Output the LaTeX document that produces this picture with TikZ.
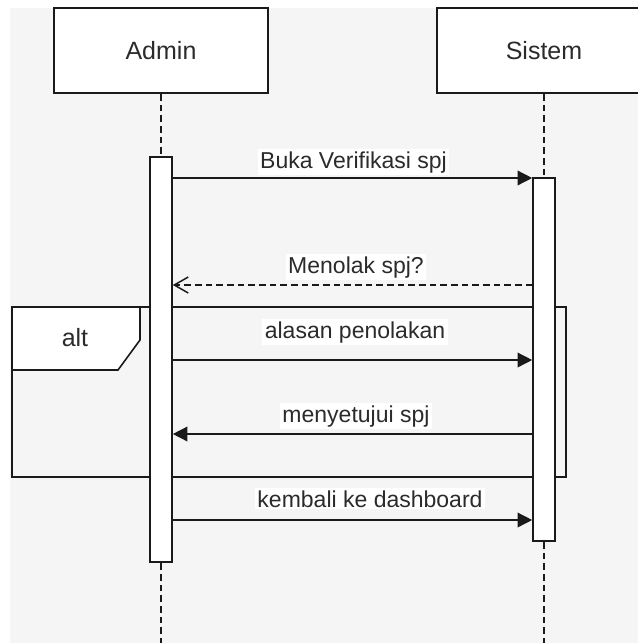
\documentclass[tikz,border=0pt]{standalone}
\usepackage{fontspec}
\setmainfont{Liberation Sans}
\usetikzlibrary{arrows.meta}
\definecolor{canvas}{HTML}{F5F5F5}
\definecolor{ink}{HTML}{1A1A1A}
\definecolor{txt}{HTML}{2B2B2B}
\tikzset{
  lifebox/.style={draw=ink, fill=white, line width=1.5pt, inner sep=0pt,
    minimum width=160.5pt, minimum height=63.75pt, text=txt,
    font=\fontsize{18.75pt}{22pt}\selectfont},
  actbox/.style={draw=ink, fill=white, line width=1.2pt, inner sep=0pt,
    minimum width=16.5pt},
  lifeline/.style={draw=ink, line width=1.1pt, dash pattern=on 5pt off 3pt},
  msg/.style={draw=ink, line width=1.1pt, -{Triangle[length=11pt,width=11pt]}},
  reply/.style={draw=ink, line width=1.1pt, dash pattern=on 5pt off 3pt,
    -{Straight Barb[length=10.5pt,width=12pt,line width=1.1pt]}},
  msglabel/.style={anchor=base, inner xsep=2pt, inner ysep=1.5pt, text=txt,
    fill=white, font=\fontsize{17.25pt}{20pt}\selectfont},
  altlabel/.style={anchor=base, inner sep=0pt, text=txt,
    font=\fontsize{18.75pt}{22pt}\selectfont},
  framebox/.style={draw=ink, line width=1.2pt}
}
\begin{document}
\begin{tikzpicture}[x=0.75pt, y=-0.75pt]
  % canvas
  \useasboundingbox (0,0) rectangle (638,643);
  \fill[white] (0,0) rectangle (638,643);
  \fill[canvas] (10,8) rectangle (638,643);

  % participants
  \node[lifebox] (admin) at (161,50.5) {Admin};
  \node[lifebox] (sistem) at (544,50.5) {Sistem};

  % lifeline ends
  \coordinate (adminEnd) at (161,643);
  \coordinate (sistemEnd) at (544,643);
  \draw[lifeline] (admin.south) -- (adminEnd);
  \draw[lifeline] (sistem.south) -- (sistemEnd);

  % alt combined fragment
  \coordinate (altTL) at (12,307);
  \coordinate (altBR) at (566,477);
  \draw[framebox] (altTL) rectangle (altBR);
  \draw[framebox, fill=white] (altTL) -- (140,307) -- (140,340) -- (118,370) -- (12,370) -- cycle;
  \node[altlabel] (altname) at (75,346) {alt};

  % activation bars
  \node[actbox, minimum height=303.75pt] (actA) at (161,359.5) {};
  \node[actbox, minimum height=272.25pt] (actS) at (544,359.5) {};

  % message rows
  \coordinate (r1) at (0,178);
  \coordinate (r2) at (0,285);
  \coordinate (r3) at (0,360);
  \coordinate (r4) at (0,434);
  \coordinate (r5) at (0,520);

  \draw[msg] (actA.east |- r1) -- (actS.west |- r1);
  \draw[reply] (actS.west |- r2) -- (actA.east |- r2);
  \draw[msg] (actA.east |- r3) -- (actS.west |- r3);
  \draw[msg] (actS.west |- r4) -- (actA.east |- r4);
  \draw[msg] (actA.east |- r5) -- (actS.west |- r5);

  % message labels
  \node[msglabel] (l1) at (353.5,168) {Buka Verifikasi spj};
  \node[msglabel] (l2) at (356,273) {Menolak spj?};
  \node[msglabel] (l3) at (355,338) {alasan penolakan};
  \node[msglabel] (l4) at (356,422) {menyetujui spj};
  \node[msglabel] (l5) at (370,507) {kembali ke dashboard};
\end{tikzpicture}
\end{document}
